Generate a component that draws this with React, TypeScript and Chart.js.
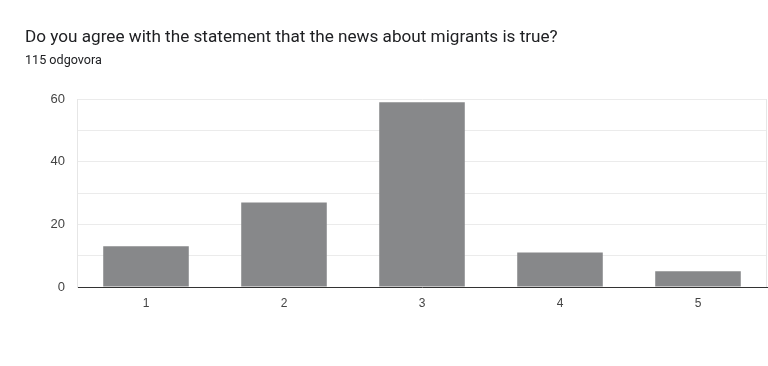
import React, { useEffect, useRef } from "react";
import { Chart, registerables } from "chart.js";

Chart.register(...registerables);

const titleText = "Do you agree with the statement that the news about migrants is true?";
const subtitleText = "115 odgovora";
const categories = ["1", "2", "3", "4", "5"];
const responses = [13, 27, 59, 11, 5];
const yMax = 60;
const yStep = 10;
const yLabelStep = 20;

const sideBorders = {
  id: "sideBorders",
  afterDraw(chart: any) {
    const { ctx, chartArea } = chart;
    ctx.save();
    ctx.strokeStyle = "#e6e6e6";
    ctx.lineWidth = 1;
    ctx.beginPath();
    ctx.moveTo(Math.round(chartArea.right) - 0.5, chartArea.top);
    ctx.lineTo(Math.round(chartArea.right) - 0.5, chartArea.bottom);
    ctx.stroke();
    ctx.restore();
  },
};

export default function App() {
  const ref = useRef<HTMLCanvasElement>(null);
  useEffect(() => {
    document.body.style.margin = "0";
    const chart = new Chart(ref.current!, {
      type: "bar",
      data: {
        labels: categories,
        datasets: [
          {
            data: responses,
            backgroundColor: "#87888a",
            categoryPercentage: 0.62,
            barPercentage: 1,
          },
        ],
      },
      options: {
        animation: false,
        responsive: false,
        maintainAspectRatio: false,
        layout: { padding: { left: 0, right: 1, top: 99, bottom: 49 } },
        plugins: { legend: { display: false }, tooltip: { enabled: false } },
        scales: {
          x: {
            grid: { display: false },
            border: { color: "#333333", width: 1 },
            ticks: {
              color: "#444444",
              font: { family: "Arial, 'Liberation Sans'", size: 12 },
              padding: 1,
            },
            afterFit(scale: any) {
              scale.height = 30;
            },
          },
          y: {
            min: 0,
            max: yMax,
            grid: { color: "#ebebeb", drawTicks: false },
            border: { color: "#e6e6e6" },
            ticks: {
              stepSize: yStep,
              color: "#444444",
              font: { family: "Arial, 'Liberation Sans'", size: 13 },
              padding: 12,
              callback: (v: any) => (Number(v) % yLabelStep === 0 ? String(v) : ""),
            },
            afterFit(scale: any) {
              scale.width = 77;
            },
          },
        },
      },
      plugins: [sideBorders],
    });
    return () => chart.destroy();
  }, []);

  return (
    <div style={{ position: "relative", width: 768, height: 366, background: "#fff" }}>
      <canvas ref={ref} width={768} height={366} style={{ position: "absolute", left: 0, top: 0 }} />
      <div
        style={{
          position: "absolute",
          left: 25,
          top: 26,
          fontFamily: "Roboto, 'Open Sans', sans-serif",
          fontSize: 17.15,
          color: "#202124",
          whiteSpace: "nowrap",
        }}
      >
        {titleText}
      </div>
      <div
        style={{
          position: "absolute",
          left: 25,
          top: 52,
          fontFamily: "Roboto, 'Open Sans', sans-serif",
          fontSize: 12.6,
          color: "#202124",
          whiteSpace: "nowrap",
        }}
      >
        {subtitleText}
      </div>
    </div>
  );
}
